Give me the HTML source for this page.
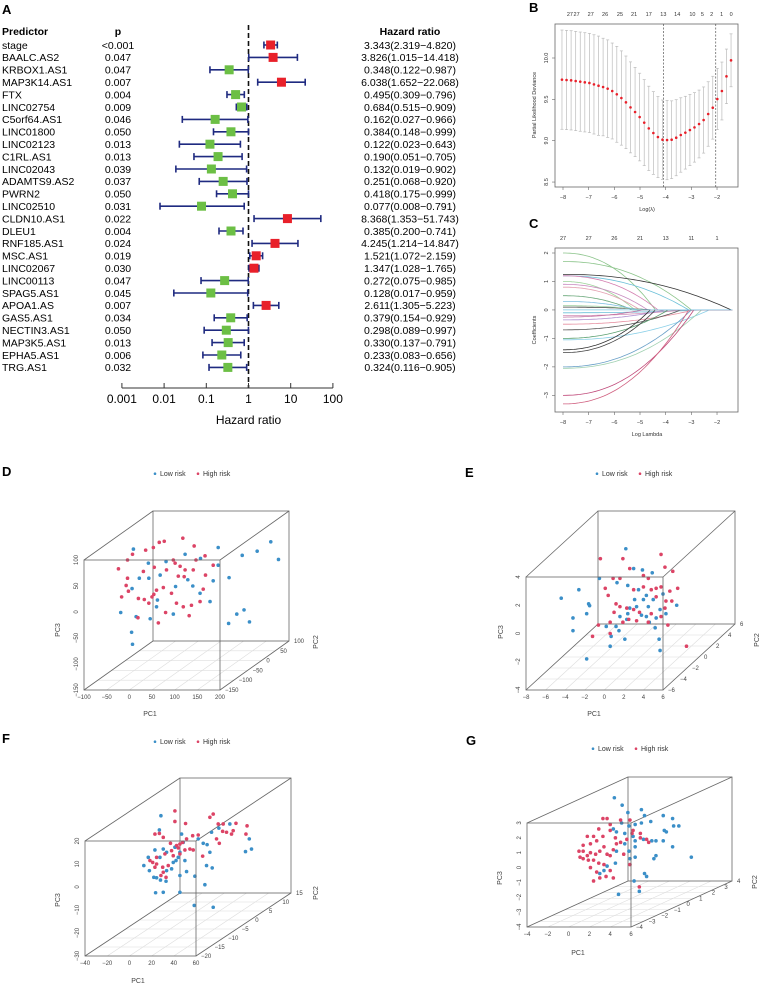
<!DOCTYPE html>
<html><head><meta charset="utf-8"><style>
html,body{margin:0;padding:0;background:#fff}
svg{display:block;font-family:"Liberation Sans",Arial,sans-serif}
</style></head><body>
<svg id="fig" width="761" height="984" viewBox="0 0 761 984" xmlns="http://www.w3.org/2000/svg"></svg>
<script>
// ---------- Panel A data ----------
const predictors=["stage","BAALC.AS2","KRBOX1.AS1","MAP3K14.AS1","FTX","LINC02754","C5orf64.AS1","LINC01800","LINC02123","C1RL.AS1","LINC02043","ADAMTS9.AS2","PWRN2","LINC02510","CLDN10.AS1","DLEU1","RNF185.AS1","MSC.AS1","LINC02067","LINC00113","SPAG5.AS1","APOA1.AS","GAS5.AS1","NECTIN3.AS1","MAP3K5.AS1","EPHA5.AS1","TRG.AS1"];
const pvals=["<0.001","0.047","0.047","0.007","0.004","0.009","0.046","0.050","0.013","0.013","0.039","0.037","0.050","0.031","0.022","0.004","0.024","0.019","0.030","0.047","0.045","0.007","0.034","0.050","0.013","0.006","0.032"];
const hr=[3.343,3.826,0.348,6.038,0.495,0.684,0.162,0.384,0.122,0.190,0.132,0.251,0.418,0.077,8.368,0.385,4.245,1.521,1.347,0.272,0.128,2.611,0.379,0.298,0.330,0.233,0.324];
const hrLow=[2.319,1.015,0.122,1.652,0.309,0.515,0.027,0.148,0.023,0.051,0.019,0.068,0.175,0.008,1.353,0.200,1.214,1.072,1.028,0.075,0.017,1.305,0.154,0.089,0.137,0.083,0.116];
const hrHigh=[4.820,14.418,0.987,22.068,0.796,0.909,0.966,0.999,0.643,0.705,0.902,0.920,0.999,0.791,51.743,0.741,14.847,2.159,1.765,0.985,0.959,5.223,0.929,0.997,0.791,0.656,0.905];
const hrTicks=[0.001,0.01,0.1,1,10,100];
const hrTickLabels=["0.001","0.01","0.1","1","10","100"];
// ---------- Panel B data ----------
const bLambda=[-8.04,-7.862,-7.684,-7.506,-7.328,-7.15,-6.972,-6.794,-6.616,-6.438,-6.26,-6.082,-5.904,-5.726,-5.548,-5.37,-5.192,-5.014,-4.836,-4.658,-4.48,-4.302,-4.124,-3.946,-3.768,-3.59,-3.412,-3.234,-3.056,-2.878,-2.7,-2.522,-2.344,-2.166,-1.988,-1.81,-1.632,-1.454];
const bDev=[9.738,9.734,9.730,9.722,9.714,9.706,9.698,9.681,9.665,9.649,9.629,9.601,9.561,9.516,9.464,9.403,9.347,9.286,9.218,9.149,9.093,9.044,9.012,9.008,9.012,9.036,9.069,9.097,9.129,9.161,9.202,9.250,9.323,9.399,9.504,9.601,9.778,9.972];
const bSE=[0.60,0.60,0.60,0.60,0.60,0.60,0.60,0.60,0.60,0.59,0.59,0.58,0.58,0.57,0.56,0.55,0.54,0.53,0.52,0.51,0.50,0.49,0.48,0.48,0.47,0.46,0.45,0.44,0.43,0.42,0.41,0.40,0.39,0.38,0.37,0.35,0.33,0.32];
const bTopLambda=[-7.73,-7.47,-6.92,-6.36,-5.78,-5.23,-4.66,-4.09,-3.55,-2.96,-2.57,-2.21,-1.82,-1.45];
const bTopLabels=["27","27","27","26","25","21","17","13","14","10","5","2","1","0"];
const bXTicks=[-8,-7,-6,-5,-4,-3,-2];
const bYTicks=[8.5,9.0,9.5,10.0];
const bVLines=[-4.09,-2.05];
// ---------- Panel C data ----------
const cStart=[2.0,1.7,1.25,1.2,1.2,1.0,0.9,0.8,0.5,0.1,0.0,-0.1,-0.2,-0.35,-0.5,-0.7,-1.0,-1.05,-1.4,-1.5,-2.0,-2.05,-3.0,-3.3,0.15,-0.25,0.3];
const cZero=[-4.4,-3.0,-1.45,-3.1,-4.3,-5.2,-4.7,-5.0,-5.3,-4.5,-4.2,-2.6,-3.3,-4.0,-2.9,-3.4,-3.9,-2.3,-4.6,-4.4,-3.0,-2.6,-2.9,-3.1,-4.8,-4.9,-5.1];
const cColors=["#8bc48a","#8bc48a","#333333","#6cc0d8","#d47fb0","#9ed49a","#c98cc0","#e3a0b0","#6aa87a","#444444","#7fc7e0","#6cc0d8","#d48fb6","#b08fd0","#e68fa0","#555555","#5aa070","#8cd0e8","#333333","#444444","#6aa0c8","#9fd0b0","#c04a7a","#d06080","#a0d0a0","#c070a0","#80c0e0"];
const cTopLambda=[-8,-7,-6,-5,-4,-3,-2];
const cTopLabels=["27","27","26","21","13","11","1"];
const cXTicks=[-8,-7,-6,-5,-4,-3,-2];
const cYTicks=[-3,-2,-1,0,1,2];
// ---------- PCA panel data ----------
const dLowPC1=[9,312,282,329,249,196,157,123,81,42,22,6,43,68,102,140,156,178,185,220,237,253,265,219,-19,15,46,97,5,7,62,129,196,60];
const dLowPC3=[121,135,117,101,109,124,103,111,97,94,65,45,65,71,49,50,36,20,60,66,-4,4,-19,-22,-1,-9,-13,-4,-39,-62,23,62,90,10];
const dHighPC1=[-24,-4,7,36,53,66,77,118,143,167,185,168,141,123,97,82,55,31,-4,-7,-17,-2,20,33,43,50,60,75,93,104,119,132,137,156,163,121,108,64,80,19,54,101,112,147];
const dHighPC3=[83,100,111,119,124,134,136,142,127,108,90,71,81,81,100,81,86,78,65,51,29,40,26,24,17,29,42,47,36,17,10,-7,13,20,44,68,69,-21,-1,-11,34,94,88,100];
const eLowPC1=[-4.4,-2.6,-3.2,-3.2,-1.6,-1.5,-1.8,-1.8,-0.5,1.3,2.2,3.0,3.9,4.9,2.4,3.5,4.3,5,6,7.4,6.3,5.7,4.5,3.8,3.3,2.6,2.4,2.3,1.6,1.2,0.7,0.6,1.5,2.1,0.2,5.2,5.6,5.7,4.6,4.3,5.3,3.1,4.0];
const eLowPC3=[2.5,3.1,1.1,0.2,2.1,1.97,1.4,-1.8,3.9,3.6,6.0,4.6,4.5,4.3,3.4,3.1,2.7,2.4,2.8,2.0,1.4,1.7,1.9,1.3,1.9,1.8,1.4,1.0,1.2,0.5,-0.2,-0.9,0.2,-0.4,0.5,0.4,-0.4,-1.2,0.8,1.2,1.1,2.4,2.4];
const eHighPC1=[-0.4,1.9,2.6,4.0,5.8,6.2,7.0,7.5,6.7,5.8,5.3,4.8,4.0,3.0,1.6,0.9,0.1,0.4,1.2,1.6,2.3,3.0,3.6,4.8,6.2,6.9,6.5,5.8,4.5,3.3,2.5,1.9,1.0,0.6,-0.6,-1.2,0.6,8.4,4.5,5.3,6.3];
const eHighPC3=[5.3,5.3,4.6,4.1,5.6,4.7,4.4,3.2,3.0,3.3,3.2,3.1,3.3,3.1,3.9,3.9,3.2,2.7,2.1,1.9,1.8,1.7,1.5,1.4,1.8,2.3,0.6,1.2,0.8,0.9,1.0,0.8,1.5,0.8,0.6,-0.2,0.0,-0.9,3.9,2.6,2.3];
const fLowPC1=[28.4,27,23,17,13,18,22,24.5,28,33,23.6,30.5,33.5,38,39.5,42,44,45.5,47,48.5,50,45.5,45.5,51.5,59,58.4,68,75.5,62,66.5,70,72.5,69.5,74.6,74,80.6,90.5,108,110,104.6,33.5,30.5,41,27.5];
const fLowPC3=[31,24.8,16.1,12.9,9.3,7.1,4.2,4,3,2.5,-2.5,-2.3,7.1,7.9,10.7,11.5,12.9,15.1,23,19.4,11.5,5,-2.3,6.7,4.7,-8,1,-8.8,20.9,19,18.4,15.1,9.3,8.3,23.8,25.6,27.4,20.9,16.5,15.4,15.1,16.5,17.3,12.9];
const fHighPC1=[41,41,50.6,27,23,30.5,37,42.5,45.5,48,51.5,57,62,57.5,54.5,50,44,38,32,24.5,21,24.5,30,35,30.5,33,28.4,23,18.5,75.5,72.5,80,84.5,84,87.5,92,93.5,96,106,105,81,78.5,66,39.5,45.5];
const fHighPC3=[33.1,28.5,27.6,23.3,23,21.6,19,18,18.7,19.4,20.9,22.3,22.6,16.1,16.5,16.1,17,15.8,14.4,12.9,10.7,10,8.6,9.3,6.4,4.2,5,8.6,11.5,31.7,30.3,27.4,27.4,24.2,23.8,23,24.5,27.7,26.6,23,19,20.9,13.4,13.6,14.4];
const gLowPC1=[4.4,5.15,5.7,7.0,7.3,9.1,10,10.1,10.6,9.2,9.4,7.9,7.0,6.4,5.8,5.1,4.3,4.6,5.4,6.2,6.4,7.2,8.0,8.4,9.1,10,8.4,8.2,11.8,5.9,6.4,6.4,5.8,4.5,3.7,3.4,3.0,7.3,7.5,6.3,6.8,4.8,4.6,5.4];
const gLowPC3=[4.7,4.2,3.7,3.9,3.5,3.5,3.3,2.8,2.8,2.5,2.4,3.1,3.0,2.9,2.8,3.0,2.6,2.4,2.3,2.1,1.8,1.9,1.8,1.8,1.8,1.4,0.8,0.6,0.7,0.6,0.7,1.4,1.1,0.3,0.1,-0.2,-0.4,-0.4,-0.6,-0.9,-1.6,-1.8,1.1,1.6];
const gHighPC1=[3.3,3.7,4.0,5.0,5.9,2.9,2.4,1.8,4.0,4.5,2.7,2.1,1.4,1.0,1.1,1.4,1.8,2.1,2.6,3.0,3.4,3.7,4.0,4.3,5.0,5.6,6.1,6.9,7.5,7.7,6.9,6.2,2.4,2.9,2.1,2.7,2.4,3.0,3.6,4.3,4.0,3.4,1.4,1.9,5.9,6.8,3.3,4.6,5.3];
const gHighPC3=[3.3,3.3,2.9,3.2,3.2,2.6,2.1,2.1,2.5,2.0,1.8,1.6,1.5,1.1,0.7,0.6,0.8,1.0,0.9,1.1,1.4,0.9,0.8,1.2,1.7,1.9,2.3,2.0,1.9,1.7,2.3,2.5,0.5,0.3,0.0,-0.3,-0.9,-0.7,-0.6,-0.7,-0.2,0.2,1.1,0.5,0.2,-1.3,2.1,1.6,0.9];

const NS="http://www.w3.org/2000/svg";
const svg=document.getElementById('fig');
function mk(tag,attrs,parent,text){const e=document.createElementNS(NS,tag);for(const k in attrs)e.setAttribute(k,attrs[k]);if(text!==undefined)e.textContent=text;(parent||svg).appendChild(e);return e;}
function grp(name){const g=mk('g',{});return g;}

// panel letters
[["A",2,14],["B",529,12],["C",529,228],["D",2,476],["E",465,477],["F",2,743],["G",466,745]].forEach(l=>{
  const t=mk('text',{x:l[1],y:l[2],'font-size':13,'font-weight':'bold'},svg,l[0]);
  
  
});

// ---------- Panel A ----------
(function(){
  const g=grp('forest-plot');
  const xA=v=>248.5+Math.log10(v)*42.2;
  const rowY=i=>45+i*12.4;
  const fs=10.5;
  const hrX=410;
  let t=mk('text',{x:2,y:35,'font-size':fs,'font-weight':'bold'},g,'Predictor');
  t=mk('text',{x:118,y:35,'font-size':fs,'font-weight':'bold','text-anchor':'middle'},g,'p');
  t=mk('text',{x:hrX,y:35,'font-size':fs,'font-weight':'bold','text-anchor':'middle'},g,'Hazard ratio');
  const ln=mk('line',{x1:xA(1),x2:xA(1),y1:25,y2:388,stroke:'#111','stroke-width':1.6,'stroke-dasharray':'5,3'},g);
  
  predictors.forEach((p,i)=>{
    const y=rowY(i);
    let e=mk('text',{x:2,y:y+3.8,'font-size':fs},g,p);
    e=mk('text',{x:118,y:y+3.8,'font-size':fs,'text-anchor':'middle'},g,pvals[i]);
    e=mk('text',{x:hrX,y:y+3.8,'font-size':fs,'text-anchor':'middle'},g,hr[i].toFixed(3)+'('+hrLow[i].toFixed(3)+'\u2212'+hrHigh[i].toFixed(3)+')');
    const x1=xA(hrLow[i]),x2=xA(hrHigh[i]);
    e=mk('line',{x1:x1,x2:x2,y1:y,y2:y,stroke:'#1f2a80','stroke-width':1.6},g);
    [x1,x2].forEach(xx=>{const c=mk('line',{x1:xx,x2:xx,y1:y-3.5,y2:y+3.5,stroke:'#1f2a80','stroke-width':1.6},g);});
    const cx=xA(hr[i]);
    e=mk('rect',{x:cx-4.5,y:y-4.5,width:9,height:9,fill:hr[i]>1?'#e8202a':'#6cbf45'},g);
  });
  let ax=mk('line',{x1:xA(0.001),x2:xA(100),y1:388,y2:388,stroke:'#333','stroke-width':1},g);
  hrTicks.forEach((v,i)=>{
    let e=mk('line',{x1:xA(v),x2:xA(v),y1:388,y2:383,stroke:'#333'},g);
    e=mk('text',{x:xA(v),y:403,'font-size':12,'text-anchor':'middle'},g,hrTickLabels[i]);
  });
  t=mk('text',{x:xA(1),y:424,'font-size':12,'text-anchor':'middle'},g,'Hazard ratio');
})();

// ---------- Panel B ----------
(function(){
  const g=grp('cv-deviance-plot');
  const xB=l=>563+(l+8)*25.67, yB=v=>58+(10-v)*82.7;
  let r=mk('rect',{x:555,y:24,width:183,height:163,fill:'none',stroke:'#666','stroke-width':0.8},g);
  bVLines.forEach(l=>{const e=mk('line',{x1:xB(l),x2:xB(l),y1:24,y2:187,stroke:'#555','stroke-width':0.7,'stroke-dasharray':'2,1.5'},g);});
  bLambda.forEach((l,i)=>{
    const x=xB(l);
    let e=mk('line',{x1:x,x2:x,y1:yB(bDev[i]+bSE[i]),y2:yB(bDev[i]-bSE[i]),stroke:'#bbb','stroke-width':0.7},g);
    [bSE[i],-bSE[i]].forEach(s=>{const c=mk('line',{x1:x-1.5,x2:x+1.5,y1:yB(bDev[i]+s),y2:yB(bDev[i]+s),stroke:'#bbb','stroke-width':0.7},g);});
    e=mk('circle',{cx:x,cy:yB(bDev[i]),r:1.3,fill:'#e8202a'},g);
  });
  bXTicks.forEach(v=>{
    let e=mk('line',{x1:xB(v),x2:xB(v),y1:187,y2:190,stroke:'#666','stroke-width':0.6},g);
    e=mk('text',{x:xB(v),y:199,'font-size':5.5,'text-anchor':'middle',fill:'#333'},g,String(v).replace('-','\u2212'));
  });
  bYTicks.forEach(v=>{
    let e=mk('line',{x1:552,x2:555,y1:yB(v),y2:yB(v),stroke:'#666','stroke-width':0.6},g);
    e=mk('text',{x:0,y:0,'font-size':5.5,'text-anchor':'middle',fill:'#333',transform:`translate(548,${yB(v)}) rotate(-90)`},g,v.toFixed(1));
  });
  bTopLambda.forEach((l,i)=>{const e=mk('text',{x:xB(l),y:16,'font-size':5.5,'text-anchor':'middle',fill:'#333'},g,bTopLabels[i]);});
  let t=mk('text',{x:647,y:211,'font-size':5.5,'text-anchor':'middle',fill:'#333'},g,'Log(\u03bb)');
  t=mk('text',{x:0,y:0,'font-size':5.5,'text-anchor':'middle',fill:'#333',transform:'translate(536,105) rotate(-90)'},g,'Partial Likelihood Deviance');
})();

// ---------- Panel C ----------
(function(){
  const g=grp('coefficient-path-plot');
  const xC=l=>563+(l+8)*25.67, yC=v=>253+(2-v)*28.47;
  let r=mk('rect',{x:555,y:248,width:183,height:164,fill:'none',stroke:'#666','stroke-width':0.8},g);
  cStart.forEach((s,i)=>{
    const z=cZero[i];let d='';
    for(let k=0;k<=40;k++){const l=-8+(z+8)*k/40;const f=(l+8)/(z+8);const v=s*(1-Math.pow(f,2.2));d+=(k?'L':'M')+xC(l).toFixed(1)+','+yC(v).toFixed(1);}
    d+='L'+xC(-1.4).toFixed(1)+','+yC(0).toFixed(1);
    const p=mk('path',{d:d,fill:'none',stroke:cColors[i],'stroke-width':0.8},g);
  });
  cXTicks.forEach(v=>{
    let e=mk('line',{x1:xC(v),x2:xC(v),y1:412,y2:415,stroke:'#666','stroke-width':0.6},g);
    e=mk('text',{x:xC(v),y:424,'font-size':5.5,'text-anchor':'middle',fill:'#333'},g,String(v).replace('-','\u2212'));
  });
  cYTicks.forEach(v=>{
    let e=mk('line',{x1:552,x2:555,y1:yC(v),y2:yC(v),stroke:'#666','stroke-width':0.6},g);
    e=mk('text',{x:0,y:0,'font-size':5.5,'text-anchor':'middle',fill:'#333',transform:`translate(548,${yC(v)}) rotate(-90)`},g,String(v).replace('-','\u2212'));
  });
  cTopLambda.forEach((l,i)=>{const e=mk('text',{x:xC(l),y:240,'font-size':5.5,'text-anchor':'middle',fill:'#333'},g,cTopLabels[i]);});
  let t=mk('text',{x:647,y:436,'font-size':5.5,'text-anchor':'middle',fill:'#333'},g,'Log Lambda');
  t=mk('text',{x:0,y:0,'font-size':5.5,'text-anchor':'middle',fill:'#333',transform:'translate(536,330) rotate(-90)'},g,'Coefficients');
})();

// ---------- PCA 3D panels ----------
const BLUE='#3b8fc8',RED='#dc4466';
function pca(name,c,low1,low3,high1,high3){
  const g=grp(name);
  const W=c.R-c.L,H=c.B-c.T;
  const X=v=>c.L+(v-c.xr[0])/(c.xr[1]-c.xr[0])*W;
  const Y=v=>c.B-(v-c.zr[0])/(c.zr[1]-c.zr[0])*H;
  const D=v=>(v-c.yr[0])/(c.yr[1]-c.yr[0]);
  c.xt.forEach(v=>{const e=mk('line',{x1:X(v),y1:c.B,x2:X(v)+c.dx,y2:c.B+c.dy,stroke:'#ddd','stroke-width':0.6},g);});
  c.yt.forEach(v=>{const t=D(v);const e=mk('line',{x1:c.L+t*c.dx,y1:c.B+t*c.dy,x2:c.R+t*c.dx,y2:c.B+t*c.dy,stroke:'#ddd','stroke-width':0.6},g);});
  const st={fill:'none',stroke:'#666','stroke-width':0.8};
  let e=mk('rect',Object.assign({x:c.L+c.dx,y:c.T+c.dy,width:W,height:H},st),g);
  [[c.L,c.T],[c.R,c.T],[c.L,c.B],[c.R,c.B]].forEach(p=>{const l=mk('line',Object.assign({x1:p[0],y1:p[1],x2:p[0]+c.dx,y2:p[1]+c.dy},st),g);});
  low1.forEach((v,i)=>{const p=mk('circle',{cx:X(v),cy:Y(low3[i]),r:1.8,fill:BLUE},g);});
  high1.forEach((v,i)=>{const p=mk('circle',{cx:X(v),cy:Y(high3[i]),r:1.8,fill:RED},g);});
  e=mk('rect',Object.assign({x:c.L,y:c.T,width:W,height:H},st),g);
  const fs=6,col='#444';
  const m=s=>String(s).replace('-','\u2212');
  c.xt.forEach(v=>{const t=mk('text',{x:X(v),y:c.B+9,'font-size':fs,'text-anchor':'middle',fill:col},g,m(v));});
  c.zt.forEach(v=>{const t=mk('text',{x:0,y:0,'font-size':fs,'text-anchor':'middle',fill:col,transform:`translate(${c.L-6},${Y(v)}) rotate(-90)`},g,m(v));});
  c.yt.forEach(v=>{const t=D(v);const tx=mk('text',{x:c.R+t*c.dx+5,y:c.B+t*c.dy+2,'font-size':fs,fill:col},g,m(v));});
  let t=mk('text',{x:c.pc1[0],y:c.pc1[1],'font-size':7,'text-anchor':'middle',fill:col},g,'PC1');
  t=mk('text',{x:0,y:0,'font-size':7,'text-anchor':'middle',fill:col,transform:`translate(${c.pc3[0]},${c.pc3[1]}) rotate(-90)`},g,'PC3');
  t=mk('text',{x:0,y:0,'font-size':7,'text-anchor':'middle',fill:col,transform:`translate(${c.pc2[0]},${c.pc2[1]}) rotate(-90)`},g,'PC2');
  const lg=mk('g',{},g);
  const lx=c.leg[0],ly=c.leg[1];
  let d=mk('circle',{cx:lx,cy:ly-2.3,r:1.3,fill:BLUE},lg);
  t=mk('text',{x:lx+5,y:ly,'font-size':7,fill:'#333'},lg,'Low risk');
  d=mk('circle',{cx:lx+43,cy:ly-2.3,r:1.3,fill:RED},lg);
  t=mk('text',{x:lx+48,y:ly,'font-size':7,fill:'#333'},lg,'High risk');
}
pca('pca-plot-d',{L:84,R:220,T:560,B:690,dx:69,dy:-49,xr:[-100,200],zr:[-150,100],yr:[-150,100],xt:[-100,-50,0,50,100,150,200],zt:[-150,-100,-50,0,50,100],yt:[-150,-100,-50,0,50,100],pc1:[150,716],pc3:[60,630],pc2:[318,642],leg:[155,476]},dLowPC1,dLowPC3,dHighPC1,dHighPC3);
pca('pca-plot-e',{L:526,R:663,T:577,B:690,dx:72,dy:-66,xr:[-8,6],zr:[-4,4],yr:[-6,6],xt:[-8,-6,-4,-2,0,2,4,6],zt:[-4,-2,0,2,4],yt:[-6,-4,-2,0,2,4,6],pc1:[594,716],pc3:[503,632],pc2:[759,640],leg:[597,476]},eLowPC1,eLowPC3,eHighPC1,eHighPC3);
pca('pca-plot-f',{L:85,R:196,T:841,B:956,dx:95,dy:-63,xr:[-40,60],zr:[-30,20],yr:[-20,15],xt:[-40,-20,0,20,40,60],zt:[-30,-20,-10,0,10,20],yt:[-20,-15,-10,-5,0,5,10,15],pc1:[138,983],pc3:[60,900],pc2:[318,893],leg:[155,744]},fLowPC1,fLowPC3,fHighPC1,fHighPC3);
pca('pca-plot-g',{L:527,R:631,T:823,B:927,dx:101,dy:-46,xr:[-4,6],zr:[-4,3],yr:[-4,4],xt:[-4,-2,0,2,4,6],zt:[-4,-3,-2,-1,0,1,2,3],yt:[-4,-3,-2,-1,0,1,2,3,4],pc1:[578,955],pc3:[502,878],pc2:[757,882],leg:[593,751]},gLowPC1,gLowPC3,gHighPC1,gHighPC3);
</script>
</body></html>
